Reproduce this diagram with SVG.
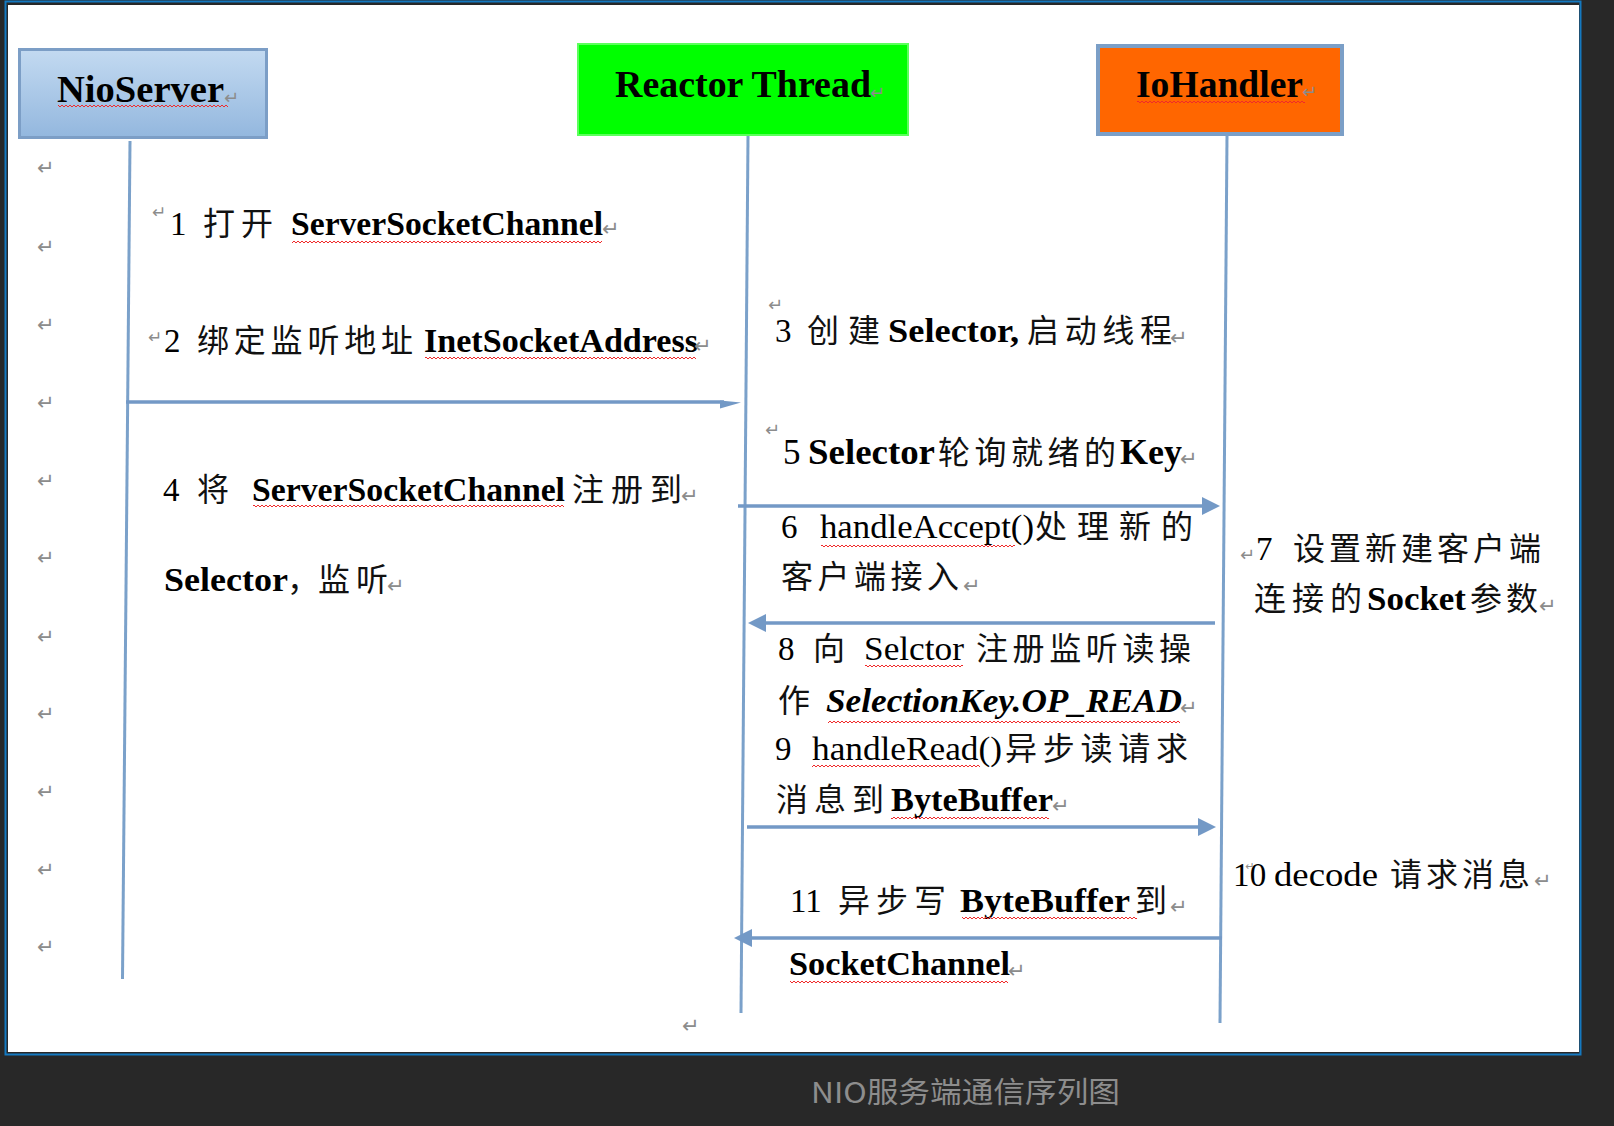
<svg xmlns="http://www.w3.org/2000/svg" width="1614" height="1126" viewBox="0 0 1614 1126">
<defs>
<style>
.t{font-family:"Liberation Serif","Noto Sans CJK SC",serif;font-size:33px;fill:#000}
.b{font-weight:bold}
.bi{font-weight:bold;font-style:italic}
.c{font-family:"Noto Sans CJK SC","Liberation Serif",sans-serif;font-size:32px;fill:#111}
.h{font-family:"Liberation Serif",serif;font-weight:bold;font-size:38px;fill:#000}
.pm{font-family:"DejaVu Sans",sans-serif;font-size:21px;fill:#8c8c8c}
.life{stroke:#7ba1ca;stroke-width:3;fill:none}
.msg{stroke:#7399c6;stroke-width:3.5;fill:none}
.wv{fill:url(#wave)}
.cap{font-family:"Noto Sans CJK SC",sans-serif;font-size:29px;fill:#8d8d8d}
</style>
<pattern id="wave" width="4" height="4" patternUnits="userSpaceOnUse">
<path d="M0,3 L2,1 L4,3" stroke="#f02a2a" stroke-width="1" fill="none"/>
</pattern>
<linearGradient id="gNio" x1="0" y1="0" x2="0" y2="1">
<stop offset="0" stop-color="#c3daf1"/>
<stop offset="1" stop-color="#93b7de"/>
</linearGradient>
<marker id="ah" viewBox="0 0 10 10" refX="5" refY="5" markerWidth="18" markerHeight="18" markerUnits="userSpaceOnUse" orient="auto">
<path d="M0,0 L10,5 L0,10 z" fill="#7399c6"/>
</marker>
</defs>

<rect x="0" y="0" width="1614" height="1126" fill="#282828"/>
<rect x="8" y="5" width="1571" height="1047" fill="#ffffff"/>
<rect x="5.5" y="1.5" width="1575" height="1053" fill="none" stroke="#1479c0" stroke-width="2"/>

<g id="margin-marks">
<text class="pm" x="37" y="175">↵</text>
<text class="pm" x="37" y="254">↵</text>
<text class="pm" x="37" y="332">↵</text>
<text class="pm" x="37" y="410">↵</text>
<text class="pm" x="37" y="488">↵</text>
<text class="pm" x="37" y="565">↵</text>
<text class="pm" x="37" y="644">↵</text>
<text class="pm" x="37" y="721">↵</text>
<text class="pm" x="37" y="799">↵</text>
<text class="pm" x="37" y="877">↵</text>
<text class="pm" x="37" y="954">↵</text>
<text class="pm" x="682" y="1033">↵</text>
</g>

<g id="NioServer">
<rect x="19.5" y="49.5" width="247" height="88" fill="url(#gNio)" stroke="#7c9ec6" stroke-width="3"/>
<text class="h" x="57" y="102" textLength="167" lengthAdjust="spacingAndGlyphs">NioServer</text>
<rect class="wv" x="58" y="104" width="170" height="4"/>
<text class="pm" x="224" y="104" style="font-size:18px">↵</text>
<line class="life" x1="130" y1="141" x2="122.5" y2="979"/>
</g>

<g id="ReactorThread">
<rect x="578" y="44" width="330" height="91" fill="#00ff00" stroke="#5cff5c" stroke-width="2"/>
<text class="h" x="615" y="97" textLength="256" lengthAdjust="spacingAndGlyphs">Reactor Thread</text>
<text class="pm" x="870" y="99" style="font-size:18px">↵</text>
<line class="life" x1="748" y1="136" x2="741" y2="1013"/>
</g>

<g id="IoHandler">
<rect x="1098" y="46" width="244" height="88" fill="#ff6600" stroke="#7b9fc7" stroke-width="4"/>
<text class="h" x="1136" y="97" textLength="167" lengthAdjust="spacingAndGlyphs">IoHandler</text>
<rect class="wv" x="1137" y="100" width="168" height="4"/>
<text class="pm" x="1302" y="98" style="font-size:18px">↵</text>
<line class="life" x1="1227" y1="136" x2="1220" y2="1023"/>
</g>

<g id="connectors">
<line class="msg" x1="126" y1="402" x2="724" y2="402"/>
<polygon points="720,400.5 741,402.5 720,408.5" fill="#7399c6"/>
<line class="msg" x1="738" y1="506" x2="1211" y2="506" marker-end="url(#ah)"/>
<line class="msg" x1="1215" y1="623" x2="757" y2="623" marker-end="url(#ah)"/>
<line class="msg" x1="747" y1="827" x2="1207" y2="827" marker-end="url(#ah)"/>
<line class="msg" x1="1222" y1="938" x2="743" y2="938" marker-end="url(#ah)"/>
</g>

<g id="label-1">
<text class="pm" x="152" y="218" style="font-size:17px">↵</text>
<text class="t" x="170" y="235">1</text>
<text class="c" x="203" y="235" textLength="70" lengthAdjust="spacing">打开</text>
<text class="t b" x="291" y="235" textLength="312" lengthAdjust="spacingAndGlyphs">ServerSocketChannel</text>
<rect class="wv" x="292" y="240" width="310" height="4"/>
<text class="pm" x="602" y="236">↵</text>
</g>

<g id="label-2">
<text class="pm" x="148" y="343" style="font-size:17px">↵</text>
<text class="t" x="164" y="352">2</text>
<text class="c" x="197" y="352" textLength="216" lengthAdjust="spacing">绑定监听地址</text>
<text class="t b" x="424" y="352" textLength="274" lengthAdjust="spacingAndGlyphs">InetSocketAddress</text>
<rect class="wv" x="425" y="356" width="271" height="4"/>
<text class="pm" x="694" y="353">↵</text>
</g>

<g id="label-3">
<text class="pm" x="768" y="311" style="font-size:18px">↵</text>
<text class="t" x="775" y="342">3</text>
<text class="c" x="807" y="342" textLength="73" lengthAdjust="spacing">创建</text>
<text class="t b" x="888" y="342" textLength="131" lengthAdjust="spacingAndGlyphs">Selector,</text>
<text class="c" x="1027" y="342" textLength="145" lengthAdjust="spacing">启动线程</text>
<text class="pm" x="1170" y="345">↵</text>
</g>

<g id="label-4">
<text class="t" x="163" y="501">4</text>
<text class="c" x="197" y="501" textLength="37" lengthAdjust="spacing">将</text>
<text class="t b" x="252" y="501" textLength="313" lengthAdjust="spacingAndGlyphs">ServerSocketChannel</text>
<rect class="wv" x="253" y="504" width="311" height="4"/>
<text class="c" x="572" y="501" textLength="110" lengthAdjust="spacing">注册到</text>
<text class="pm" x="681" y="503">↵</text>
<text class="t b" x="164" y="591" textLength="124" lengthAdjust="spacingAndGlyphs">Selector</text>
<text class="c" x="287" y="591">，</text>
<text class="c" x="318" y="591" textLength="70" lengthAdjust="spacing">监听</text>
<text class="pm" x="387" y="593">↵</text>
</g>

<g id="label-5">
<text class="pm" x="765" y="436" style="font-size:18px">↵</text>
<text class="t" x="783" y="464" style="font-size:35px">5</text>
<text class="t b" x="808" y="464" style="font-size:35px" textLength="127" lengthAdjust="spacingAndGlyphs">Selector</text>
<text class="c" x="938" y="464" textLength="178" lengthAdjust="spacing">轮询就绪的</text>
<text class="t b" x="1120" y="464" style="font-size:35px" textLength="62" lengthAdjust="spacingAndGlyphs">Key</text>
<text class="pm" x="1180" y="466">↵</text>
</g>

<g id="label-6">
<text class="t" x="781" y="538">6</text>
<text class="t" x="820" y="538" textLength="214" lengthAdjust="spacingAndGlyphs">handleAccept()</text>
<rect class="wv" x="821" y="544" width="194" height="4"/>
<text class="c" x="1035" y="538" textLength="158" lengthAdjust="spacing">处理新的</text>
<text class="c" x="781" y="588" textLength="178" lengthAdjust="spacing">客户端接入</text>
<text class="pm" x="963" y="593">↵</text>
</g>

<g id="label-7">
<text class="pm" x="1240" y="561" style="font-size:18px">↵</text>
<text class="t" x="1256" y="560">7</text>
<text class="c" x="1293" y="560" textLength="248" lengthAdjust="spacing">设置新建客户端</text>
<text class="c" x="1254" y="610" textLength="108" lengthAdjust="spacing">连接的</text>
<text class="t b" x="1367" y="610" textLength="99" lengthAdjust="spacingAndGlyphs">Socket</text>
<text class="c" x="1470" y="610" textLength="68" lengthAdjust="spacing">参数</text>
<text class="pm" x="1539" y="613">↵</text>
</g>

<g id="label-8">
<text class="t" x="778" y="660">8</text>
<text class="c" x="813" y="660" textLength="35" lengthAdjust="spacing">向</text>
<text class="t" x="864" y="660" textLength="100" lengthAdjust="spacingAndGlyphs">Selctor</text>
<rect class="wv" x="865" y="664" width="98" height="4"/>
<text class="c" x="976" y="660" textLength="215" lengthAdjust="spacing">注册监听读操</text>
<text class="c" x="778" y="712" textLength="36" lengthAdjust="spacing">作</text>
<text class="t bi" x="826" y="712" textLength="356" lengthAdjust="spacingAndGlyphs">SelectionKey.OP_READ</text>
<rect class="wv" x="828" y="720" width="352" height="4"/>
<text class="pm" x="1180" y="715">↵</text>
</g>

<g id="label-9">
<text class="t" x="775" y="760">9</text>
<text class="t" x="812" y="760" textLength="190" lengthAdjust="spacingAndGlyphs">handleRead()</text>
<rect class="wv" x="812" y="764" width="168" height="4"/>
<text class="c" x="1005" y="760" textLength="183" lengthAdjust="spacing">异步读请求</text>
<text class="c" x="776" y="811" textLength="108" lengthAdjust="spacing">消息到</text>
<text class="t b" x="891" y="811" textLength="162" lengthAdjust="spacingAndGlyphs">ByteBuffer</text>
<rect class="wv" x="891" y="816" width="158" height="4"/>
<text class="pm" x="1052" y="813">↵</text>
</g>

<g id="label-10">
<text class="t" x="1233" y="886">1<tspan dx="-4" dy="-16" style="font-family:'DejaVu Sans',sans-serif;font-size:11px;fill:#8c8c8c">↵</tspan><tspan dx="-5" dy="16">0</tspan></text>
<text class="t" x="1274" y="886" textLength="104" lengthAdjust="spacingAndGlyphs">decode</text>
<text class="c" x="1390" y="886" textLength="140" lengthAdjust="spacing">请求消息</text>
<text class="pm" x="1534" y="888">↵</text>
</g>

<g id="label-11">
<text class="t" x="790" y="912">11</text>
<text class="c" x="838" y="912" textLength="108" lengthAdjust="spacing">异步写</text>
<text class="t b" x="960" y="912" textLength="170" lengthAdjust="spacingAndGlyphs">ByteBuffer</text>
<rect class="wv" x="962" y="916" width="175" height="4"/>
<text class="c" x="1135" y="912" textLength="34" lengthAdjust="spacing">到</text>
<text class="pm" x="1170" y="914">↵</text>
<text class="t b" x="789" y="975" textLength="221" lengthAdjust="spacingAndGlyphs">SocketChannel</text>
<rect class="wv" x="790" y="980" width="218" height="4"/>
<text class="pm" x="1008" y="978">↵</text>
</g>

<text class="cap" x="811" y="1103" textLength="309" lengthAdjust="spacingAndGlyphs">NIO服务端通信序列图</text>
</svg>
